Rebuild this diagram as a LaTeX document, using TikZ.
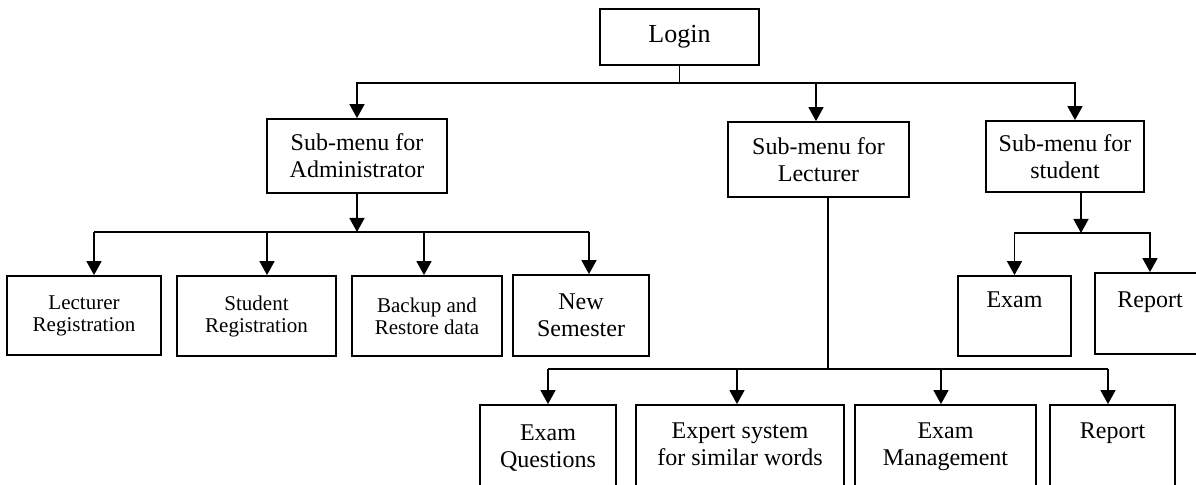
\documentclass[tikz,border=0pt]{standalone}
\usepackage{fontspec}
\setmainfont{Liberation Serif}
\usetikzlibrary{arrows.meta}
\newcommand{\mainsz}{\fontsize{12}{13.5}\selectfont}
\newcommand{\smallsz}{\fontsize{10.5}{11}\selectfont}
\newcommand{\loginsz}{\fontsize{13}{15}\selectfont}
\begin{document}
\begin{tikzpicture}[x=0.5pt,y=-0.5pt,
  box/.style={draw, line width=0.9pt, inner sep=0pt, align=center, font=\mainsz},
  conn/.style={line width=0.8pt},
  arr/.style={conn, -{Triangle[length=7pt,width=7.5pt]}},
  toplbl/.style={anchor=north, inner sep=0pt, align=center, font=\mainsz}]
\useasboundingbox (0,0) rectangle (1196,485);

% top level
\node[box, font=\loginsz, minimum width=79.5pt, minimum height=28pt] (login) at (679.5,37) {Login};
\node[box, minimum width=90pt, minimum height=37pt] (admin) at (357,156) {Sub-menu for\\Administrator};
\node[box, minimum width=90.5pt, minimum height=37.5pt] (lect) at (818.5,159.5) {Sub-menu for\\Lecturer};
\node[box, minimum width=79pt, minimum height=35.5pt] (stud) at (1065,156.5) {Sub-menu for\\student};

% administrator children
\node[box, font=\smallsz, minimum width=77pt, minimum height=39.5pt] (lreg) at (84,315.5) {Lecturer\\Registration};
\node[box, font=\smallsz, minimum width=79.5pt, minimum height=40pt] (sreg) at (256.5,316) {Student\\Registration};
\node[box, font=\smallsz, minimum width=75pt, minimum height=40pt] (backup) at (427,316) {Backup and\\Restore data};
\node[box, minimum width=68pt, minimum height=40.5pt] (newsem) at (581,315.5) {New\\Semester};

% student children
\node[box, minimum width=56.5pt, minimum height=40pt,
  label={[toplbl, yshift=-8pt]north:Exam}] (sexam) at (1014.5,316) {};
\node[box, minimum width=55pt, minimum height=40.5pt,
  label={[toplbl, yshift=-9.5pt]north:Report}] (sreport) at (1150,313.5) {};

% lecturer children
\node[box, minimum width=68pt, minimum height=50pt,
  label={[toplbl, yshift=-10pt]north:Exam\\Questions}] (eq) at (548,455) {};
\node[box, minimum width=104pt, minimum height=50pt,
  label={[toplbl, yshift=-9pt]north:Expert system\\for similar words}] (expert) at (740,455) {};
\node[box, minimum width=90.5pt, minimum height=50pt,
  label={[toplbl, yshift=-9pt]north:Exam\\Management}] (mgmt) at (945.5,455) {};
\node[box, minimum width=62.5pt, minimum height=50pt,
  label={[toplbl, yshift=-9pt]north:Report}] (lrep) at (1112.5,455) {};

% junctions
\coordinate (j1) at (679.5,83);
\coordinate (j2) at (357,232);
\coordinate (j2l) at (94,232);
\coordinate (j2r) at (589,232);
\coordinate (j3) at (828,369);
\coordinate (j4) at (1081,233);

% login branches
\draw[conn] (login.south) -- (j1);
\draw[arr] (j1) -| (admin.north);
\draw[arr] (j1) -| ([xshift=5pt]stud.north);
\draw[arr] ([xshift=-1.25pt]lect.north |- j1) -- ([xshift=-1.25pt]lect.north);

% administrator branches
\draw[arr] (admin.south) -- (j2);
\draw[conn] (j2l) -- (j2r);
\draw[arr] ([xshift=5pt]lreg.north |- j2) -- ([xshift=5pt]lreg.north);
\draw[arr] ([xshift=5.25pt]sreg.north |- j2) -- ([xshift=5.25pt]sreg.north);
\draw[arr] ([xshift=-1.5pt]backup.north |- j2) -- ([xshift=-1.5pt]backup.north);
\draw[arr] ([xshift=4pt]newsem.north |- j2) -- ([xshift=4pt]newsem.north);

% lecturer branches
\draw[conn] ([xshift=4.75pt]lect.south) -- (j3);
\draw[conn] (eq.north |- j3) -- ([xshift=-2.25pt]lrep.north |- j3);
\draw[arr] (eq.north |- j3) -- (eq.north);
\draw[arr] ([xshift=-1.5pt]expert.north |- j3) -- ([xshift=-1.5pt]expert.north);
\draw[arr] ([xshift=-2.25pt]mgmt.north |- j3) -- ([xshift=-2.25pt]mgmt.north);
\draw[arr] ([xshift=-2.25pt]lrep.north |- j3) -- ([xshift=-2.25pt]lrep.north);

% student branches
\draw[arr] ([xshift=8pt]stud.south) -- (j4);
\draw[arr] (j4) -| (sexam.north);
\draw[arr] (j4) -| (sreport.north);
\end{tikzpicture}
\end{document}
